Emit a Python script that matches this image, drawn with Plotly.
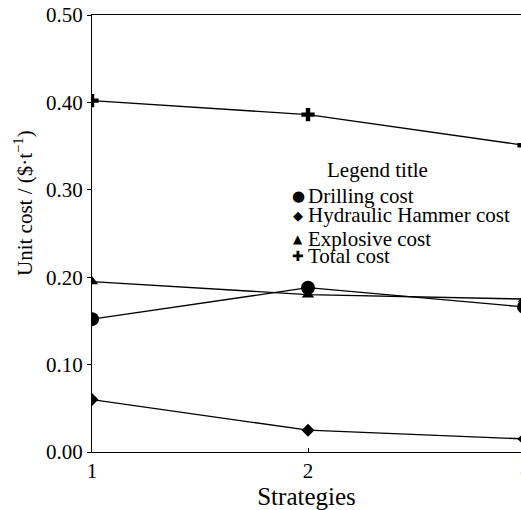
import plotly.graph_objects as go

strategies = [1, 2, 3]
drilling = [0.152, 0.188, 0.166]
hydraulic = [0.060, 0.025, 0.015]
explosive = [0.195, 0.180, 0.175]
total = [0.402, 0.386, 0.351]
y_ticks = [0.0, 0.1, 0.2, 0.3, 0.4, 0.5]
x_ticks = [1, 2, 3]

W, H = 521, 510
L, T, B = 92, 15, 58
PW, PH = W - L, H - T - B

def px(xp):
    return (xp - L) / PW

def py(yp):
    return (H - B - yp) / PH

SERIF = "Liberation Serif, Times New Roman, serif"
series = [
    ("Drilling cost", drilling, "circle", 14),
    ("Hydraulic Hammer cost", hydraulic, "diamond", 10),
    ("Explosive cost", explosive, "triangle-up", 11),
    ("Total cost", total, "cross", 11),
]

fig = go.Figure()
for name, vals, sym, sz in series:
    fig.add_trace(go.Scatter(
        x=strategies, y=vals, name=name, mode="lines+markers",
        line=dict(color="black", width=1.3),
        marker=dict(symbol=sym, size=sz, color="black"),
        showlegend=False,
    ))

# x range chosen so the right end of the plot is cut at the page edge (as in the reference)
x_end = 1 + (W - L) / 216.0

fig.update_layout(
    width=W, height=H,
    margin=dict(l=L, r=0, t=T, b=B),
    paper_bgcolor="white", plot_bgcolor="white",
    font=dict(family=SERIF, size=21, color="black"),
    xaxis=dict(range=[1, x_end], tickvals=x_ticks[:2], ticktext=[str(v) for v in x_ticks[:2]],
               ticks="inside", ticklen=4, tickcolor="black",
               showline=True, linecolor="black", linewidth=1.3, mirror=True,
               showgrid=False, zeroline=False, automargin=False,
               title=dict(text="Strategies", standoff=8)),
    yaxis=dict(range=[0, 0.5], tickvals=y_ticks, tickformat=".2f",
               ticks="outside", ticklen=4, tickcolor="black",
               showline=True, linecolor="black", linewidth=1.3,
               showgrid=False, zeroline=False, automargin=False),
)

annotations = []
# partially visible "3" tick label at the cut edge
annotations.append(dict(text=str(x_ticks[2]), xref="paper", yref="paper",
                        x=px(525), y=py(468), xanchor="center", yanchor="middle",
                        showarrow=False, font=dict(family=SERIF, size=21)))
# y axis title
annotations.append(dict(text="Unit cost / ($·t<sup>−1</sup>)", xref="paper", yref="paper",
                        x=px(24), y=py(203), xanchor="center", yanchor="middle",
                        textangle=-90, showarrow=False, font=dict(family=SERIF, size=21)))
# legend
annotations.append(dict(text="Legend title", xref="paper", yref="paper",
                        x=px(377), y=py(170), xanchor="center", yanchor="middle",
                        showarrow=False, font=dict(family=SERIF, size=21)))
legend_rows = [("●", 196, 15), ("◆", 215, 13), ("▲", 239, 12), ("✚", 256, 14)]
for (name, _, _, _), (glyph, yy, gs) in zip(series, legend_rows):
    annotations.append(dict(text=glyph, xref="paper", yref="paper",
                            x=px(298), y=py(yy), xanchor="center", yanchor="middle",
                            showarrow=False, font=dict(family="DejaVu Sans", size=gs)))
    annotations.append(dict(text=name, xref="paper", yref="paper",
                            x=px(306), y=py(yy), xanchor="left", yanchor="middle",
                            showarrow=False, font=dict(family=SERIF, size=21)))
fig.update_layout(annotations=annotations)

fig.write_html("out.html", config={"displayModeBar": False},
               post_script="document.body.style.margin='0';")
